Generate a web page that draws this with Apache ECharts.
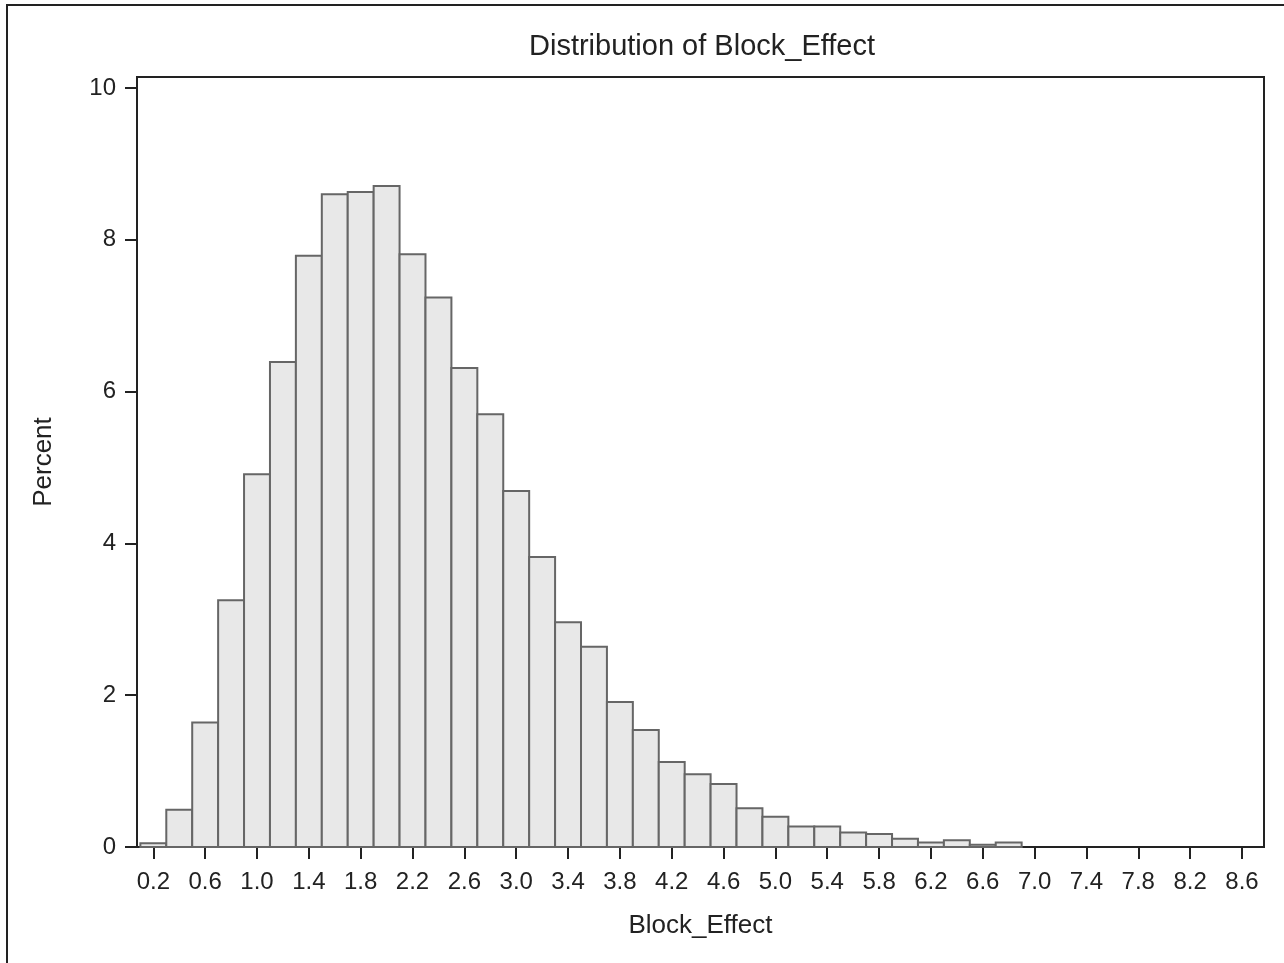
<!DOCTYPE html>
<html>
	<head>
		<meta charset="utf-8">
		<title>Distribution of Block_Effect</title>
		<script src="https://cdn.jsdelivr.net/npm/echarts@6/dist/echarts.min.js"></script>
		<style>
			html, body { margin: 0; padding: 0; background: #fff; }
		</style>
	</head>
	<body>
		<div id="main" style="width: 1284px; height: 963px;"></div>
		<script type="text/javascript">
			// bin midpoints (width 0.2) and percent in each bin
			var binMid = [0.2, 0.4, 0.6, 0.8, 1.0, 1.2, 1.4, 1.6, 1.8, 2.0,
				2.2, 2.4, 2.6, 2.8, 3.0, 3.2, 3.4, 3.6, 3.8, 4.0,
				4.2, 4.4, 4.6, 4.8, 5.0, 5.2, 5.4, 5.6, 5.8, 6.0,
				6.2, 6.4, 6.6, 6.8];
			var percent = [0.05, 0.49, 1.64, 3.25, 4.91, 6.39, 7.79, 8.60, 8.63, 8.71,
				7.81, 7.24, 6.31, 5.70, 4.69, 3.82, 2.96, 2.64, 1.91, 1.54,
				1.12, 0.96, 0.83, 0.51, 0.40, 0.27, 0.27, 0.19, 0.17, 0.11,
				0.06, 0.09, 0.03, 0.06];
			var binWidth = 0.2;
			// tick labels
			var xTicks = [0.2, 0.6, 1.0, 1.4, 1.8, 2.2, 2.6, 3.0, 3.4, 3.8, 4.2,
				4.6, 5.0, 5.4, 5.8, 6.2, 6.6, 7.0, 7.4, 7.8, 8.2, 8.6];
			var yTicks = [0, 2, 4, 6, 8, 10];

			var font = '"Liberation Sans", Arial, sans-serif';
			var ink = '#222';

			var myCharts = echarts.init(document.getElementById("main"));

			var option = {
				animation: false,
				textStyle: { fontFamily: font, color: ink },
				// title is centred over the plot area, not the page
				title: {
					text: 'Distribution of Block_Effect',
					left: 529,
					top: 32,
					padding: 0,
					textStyle: { fontFamily: font, fontSize: 29, fontWeight: 'normal', color: ink }
				},
				// outer frame, only left and top edges are visible
				graphic: [{
					type: 'rect',
					shape: { x: 7, y: 5, width: 1400, height: 1100 },
					style: { fill: 'none', stroke: '#222', lineWidth: 2 },
					silent: true
				}],
				grid: {
					left: 137, right: 20, top: 77, bottom: 116,
					show: true,
					borderColor: ink,
					borderWidth: 2
				},
				xAxis: {
					type: 'value',
					min: 0.074,
					max: 8.77,
					name: 'Block_Effect',
					nameLocation: 'middle',
					nameGap: 66,
					nameTextStyle: { fontFamily: font, fontSize: 26, color: ink },
					axisLine: { show: true, lineStyle: { color: ink, width: 2 } },
					axisTick: { show: true, length: 12, customValues: xTicks, lineStyle: { color: ink, width: 2 } },
					axisLabel: {
						customValues: xTicks,
						margin: 23,
						fontSize: 24,
						color: ink,
						formatter: function (v) { return v.toFixed(1); }
					},
					splitLine: { show: false }
				},
				yAxis: {
					type: 'value',
					min: 0,
					max: 10.145,
					name: 'Percent',
					nameLocation: 'middle',
					nameGap: 80,
					nameTextStyle: { fontFamily: font, fontSize: 26, color: ink },
					axisLine: { show: true, lineStyle: { color: ink, width: 2 } },
					axisTick: { show: true, length: 12, customValues: yTicks, lineStyle: { color: ink, width: 2 } },
					axisLabel: { customValues: yTicks, margin: 21, fontSize: 24, color: ink },
					splitLine: { show: false }
				},
				series: [{
					type: 'custom',
					data: binMid.map(function (m, i) { return [m, percent[i]]; }),
					renderItem: function (params, api) {
						var topLeft = api.coord([api.value(0) - binWidth / 2, api.value(1)]);
						var bottomRight = api.coord([api.value(0) + binWidth / 2, 0]);
						return {
							type: 'rect',
							shape: {
								x: topLeft[0],
								y: topLeft[1],
								width: bottomRight[0] - topLeft[0],
								height: bottomRight[1] - topLeft[1]
							},
							style: { fill: '#e8e8e8', stroke: '#666', lineWidth: 2 }
						};
					}
				}]
			};
			myCharts.setOption(option);
		</script>
	</body>
</html>
